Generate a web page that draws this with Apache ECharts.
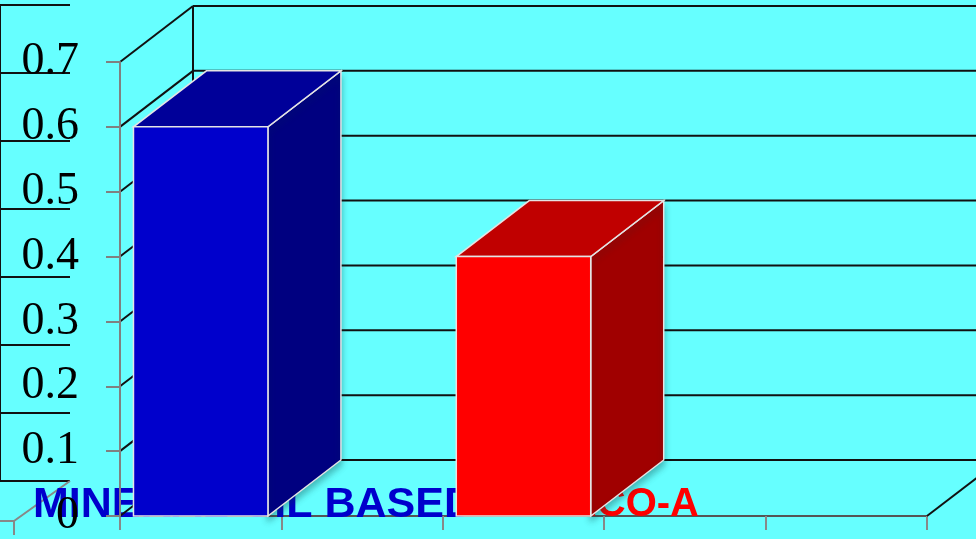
<!DOCTYPE html>
<html>
<head>
<meta charset="utf-8">
<script src="https://cdn.jsdelivr.net/npm/echarts@6/dist/echarts.min.js"></script>
<style>
  html, body { margin: 0; padding: 0; background: #66FFFF; }
  #chart { width: 976px; height: 539px; }
</style>
</head>
<body>
<div id="chart"></div>
<script>
// Category slots along the floor and the two fluids compared
const categories = ['MINERAL OIL BASED', '', 'ECO-A', '', ''];
const values = [0.6, null, 0.4, null, null];
// Value axis ticks
const yTicks = [0, 0.1, 0.2, 0.3, 0.4, 0.5, 0.6, 0.7];

// Face shades for each bar: front, top, side
const palette = [
  { front: '#0000CC', top: '#000099', side: '#000080', label: '#0000CC' },
  null,
  { front: '#FF0000', top: '#C00000', side: '#A00000', label: '#FF0000' },
  null,
  null
];

// Oblique projection of the depth axis
const DX = 73;
const DY = -56;

const chart = echarts.init(document.getElementById('chart'));

function renderFrame(params, api) {
  const v = api.value(1);
  const cs = params.coordSys;
  const p = api.coord([0, v]);
  const x0 = cs.x;
  const x1 = cs.x + cs.width;
  const y = p[1];
  const line = { stroke: '#111', lineWidth: 2 };
  const children = [
    // left wall grid line
    { type: 'line', shape: { x1: x0, y1: y, x2: x0 + DX, y2: y + DY }, style: line },
    // back wall grid line
    { type: 'line', shape: { x1: x0 + DX, y1: y + DY, x2: x1 + DX, y2: y + DY }, style: line }
  ];
  if (params.dataIndex === 0) {
    const top = api.coord([0, yTicks[yTicks.length - 1]]);
    // back corner edge
    children.push({ type: 'line', shape: { x1: x0 + DX, y1: top[1] + DY, x2: x0 + DX, y2: y + DY }, style: line });
    // right floor edge
    children.push({ type: 'line', shape: { x1: x1, y1: y, x2: x1 + DX, y2: y + DY }, style: line });
  }
  return { type: 'group', children: children };
}

function renderBar(params, api) {
  const v = api.value(1);
  if (v == null || isNaN(v)) return null;
  const i = api.value(0);
  const base = api.coord([i, 0]);
  const top = api.coord([i, v]);
  const band = api.size([1, 0])[0];
  const w = band * 0.833;
  const xa = base[0] - w / 2;
  const xb = base[0] + w / 2;
  const yb = base[1];
  const yt = top[1];
  const c = palette[params.dataIndex];
  const edge = { stroke: '#E4E4E4', lineWidth: 1.5 };
  return {
    type: 'group',
    children: [
      {
        type: 'polygon',
        shape: { points: [[xb, yb], [xb, yt], [xb + DX, yt + DY], [xb + DX, yb + DY]] },
        style: Object.assign({ fill: c.side, shadowBlur: 6, shadowOffsetY: 5, shadowColor: 'rgba(0,60,60,0.35)' }, edge)
      },
      {
        type: 'polygon',
        shape: { points: [[xa, yt], [xb, yt], [xb + DX, yt + DY], [xa + DX, yt + DY]] },
        style: Object.assign({ fill: c.top }, edge)
      },
      {
        type: 'rect',
        shape: { x: xa, y: yt, width: w, height: yb - yt },
        style: Object.assign({ fill: c.front }, edge)
      }
    ]
  };
}

const option = {
  backgroundColor: '#66FFFF',
  animation: false,
  grid: [
    { left: 120, right: 49, top: 62, bottom: 18 },
    { left: -200, width: 270, top: 5, height: 476 }
  ],
  xAxis: [
    {
      type: 'category',
      data: categories,
      gridIndex: 0,
      z: 0,
      axisLine: { lineStyle: { color: '#555', width: 2 } },
      axisTick: { show: true, length: 14, lineStyle: { color: '#888', width: 2 } },
      axisLabel: { show: false },
      splitLine: { show: false }
    },
    { type: 'value', gridIndex: 1, min: 0, max: 1, show: false }
  ],
  yAxis: [
    {
      type: 'value',
      gridIndex: 0,
      min: yTicks[0],
      max: yTicks[yTicks.length - 1],
      interval: 0.1,
      z: 3,
      axisLine: { show: true, lineStyle: { color: '#808080', width: 2 } },
      axisTick: { show: true, length: 14, lineStyle: { color: '#808080', width: 2 } },
      axisLabel: {
        margin: 41,
        color: '#000',
        fontFamily: 'Liberation Serif',
        fontSize: 46,
        formatter: function (val) { return val === 0 ? '0' : val.toFixed(1); }
      },
      splitLine: { show: false }
    },
    {
      type: 'value',
      gridIndex: 1,
      position: 'right',
      min: 0,
      max: 0.7,
      interval: 0.1,
      axisLine: { show: true, lineStyle: { color: '#111', width: 2 } },
      axisTick: { show: false },
      axisLabel: { show: false },
      splitLine: { show: true, lineStyle: { color: '#111', width: 2 } }
    }
  ],
  graphic: [
    // floor edge of the neighbouring chart
    { type: 'line', z: 1, shape: { x1: 70, y1: 481, x2: 14, y2: 521 }, style: { stroke: '#888', lineWidth: 2 } },
    { type: 'line', z: 1, shape: { x1: 0, y1: 521, x2: 14, y2: 521 }, style: { stroke: '#888', lineWidth: 2 } },
    { type: 'line', z: 1, shape: { x1: 14, y1: 521, x2: 14, y2: 535 }, style: { stroke: '#888', lineWidth: 2 } },
    // category captions along the floor
    {
      type: 'text', z: 1, x: 33, y: 505,
      style: { text: categories[0], fill: palette[0].label, font: 'bold 43px "Liberation Sans"', verticalAlign: 'middle', align: 'left' }
    },
    {
      type: 'text', z: 1, x: 699, y: 505,
      style: { text: categories[2], fill: palette[2].label, font: 'bold 40px "Liberation Sans"', verticalAlign: 'middle', align: 'right' }
    }
  ],
  series: [
    {
      type: 'custom',
      name: 'frame',
      xAxisIndex: 0,
      yAxisIndex: 0,
      z: 2,
      silent: true,
      clip: false,
      renderItem: renderFrame,
      data: yTicks.map(function (t) { return [0, t]; })
    },
    {
      type: 'custom',
      name: 'bars',
      xAxisIndex: 0,
      yAxisIndex: 0,
      z: 3,
      clip: false,
      renderItem: renderBar,
      data: values.map(function (v, i) { return [i, v]; })
    }
  ]
};

chart.setOption(option);
</script>
</body>
</html>
